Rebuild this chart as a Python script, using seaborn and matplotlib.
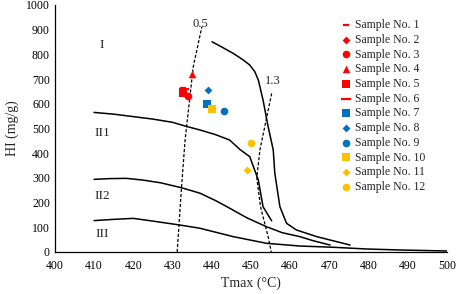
import numpy as np
import pandas as pd
import seaborn as sns
from matplotlib import pyplot as plt

# sample points (Tmax, HI)
samples = ['Sample No. 1', 'Sample No. 2', 'Sample No. 3', 'Sample No. 4',
           'Sample No. 5', 'Sample No. 6', 'Sample No. 7', 'Sample No. 8',
           'Sample No. 9', 'Sample No. 10', 'Sample No. 11', 'Sample No. 12']
tmax = [432.8, 433.3, 434.0, 435.0, 432.7, 433.0, 438.9, 439.1, 443.1, 440.1, 449.0, 450.0]
hi = [662, 638, 632, 722, 645, 660, 598, 656, 572, 578, 333, 440]
colors = ['#FF0000'] * 6 + ['#0070C0'] * 3 + ['#FFC000'] * 3
markers = ['_', 'D', 'o', '^', 's', '_', 's', 'D', 'o', 's', 'D', 'o']
sizes = [20, 16, 30, 30, 30, 45, 30, 16, 30, 30, 16, 30]

# kerogen type boundaries
typeI_x = [440.1, 442, 445.5, 448, 449.7, 451, 451.9, 453.1, 454.4, 455.7, 456.1, 457.4, 459.1, 461.6, 466.8, 475.3]
typeI_y = [851, 835, 804, 778, 757, 730, 696, 615, 507, 413, 319, 183, 116, 89, 62, 28]
typeII1_x = [410, 415, 420, 425, 430, 433.2, 437, 441, 444.6, 447.2, 449.7, 451.9, 453.1, 455.3]
typeII1_y = [565, 558, 548, 538, 525, 510, 494, 475, 453, 415, 386, 291, 183, 126]
typeII2_x = [410, 414, 418.3, 422.5, 427, 432.3, 437, 441, 444.6, 449, 454, 458, 462.5, 466, 470.2]
typeII2_y = [294, 297, 298, 291, 280, 260, 238, 208, 177, 138, 102, 78, 62, 45, 28]
typeIII_x = [410, 415, 420, 425, 431.9, 437, 445.5, 454, 462.5, 471, 479.5, 488, 500]
typeIII_y = [127, 132, 136, 125, 109, 96, 62, 35, 24, 19, 12, 8, 4]

# Ro iso-lines
ro05_x = [431.2, 432.3, 433.2, 435.3, 437.5]
ro05_y = [0, 260, 450, 750, 912]
ro13_x = [455.3, 452.3, 451.5, 452.5, 454.4, 455.2]
ro13_y = [642, 413, 300, 180, 62, 0]

sns.set_style('white')
plt.rcParams['font.family'] = ['Liberation Serif', 'DejaVu Serif']

fig = plt.figure(figsize=(4.57, 2.94), dpi=100)
ax = fig.add_axes([0.120, 0.143, 0.858, 0.840])

for xs, ys in [(typeI_x, typeI_y), (typeII1_x, typeII1_y), (typeII2_x, typeII2_y), (typeIII_x, typeIII_y)]:
    sns.lineplot(x=xs, y=ys, sort=False, estimator=None, color='black', linewidth=1.1, ax=ax)
for xs, ys in [(ro05_x, ro05_y), (ro13_x, ro13_y)]:
    sns.lineplot(x=xs, y=ys, sort=False, estimator=None, color='black', linewidth=0.9,
                 linestyle=(0, (2.5, 1.5)), ax=ax)

for i in range(len(samples)):
    lw = 1.6 if markers[i] == '_' else 0
    sns.scatterplot(x=[tmax[i]], y=[hi[i]], marker=markers[i], color=colors[i], s=sizes[i],
                    edgecolor=colors[i], linewidth=lw, label=samples[i], ax=ax, zorder=3)

ax.text(437.0, 922, '0.5', fontsize=9, ha='center', va='center')
ax.text(455.6, 692, '1.3', fontsize=9, ha='center', va='center')
ax.text(412, 840, 'I', fontsize=9.5, ha='center', va='center')
ax.text(412, 480, 'II1', fontsize=9.5, ha='center', va='center')
ax.text(412, 227, 'II2', fontsize=9.5, ha='center', va='center')
ax.text(412, 73, 'III', fontsize=9.5, ha='center', va='center')

ax.set_xlim(400, 500)
ax.set_ylim(0, 1000)
ax.set_xticks(range(400, 501, 10))
ax.set_yticks(range(0, 1001, 100))
ax.tick_params(direction='in', length=3, width=0.8, labelsize=8.5, colors='black')
ax.tick_params(axis='x', pad=6)
for s in ['top', 'right']:
    ax.spines[s].set_visible(False)
for s in ['left', 'bottom']:
    ax.spines[s].set_color('black')
    ax.spines[s].set_linewidth(0.9)
ax.set_xlabel('Tmax (°C)', fontsize=10)
ax.set_ylabel('HI (mg/g)', fontsize=10)
ax.xaxis.set_label_coords(0.5, -0.101)
ax.yaxis.set_label_coords(-0.092, 0.5)

ax.legend(loc='upper left', bbox_to_anchor=(0.737, 0.955), bbox_transform=fig.transFigure,
          frameon=False, fontsize=8.5, handlelength=0.6, handletextpad=0.4,
          labelspacing=0.23, borderpad=0, markerscale=1.0)

fig.savefig('out.png', dpi=100)
